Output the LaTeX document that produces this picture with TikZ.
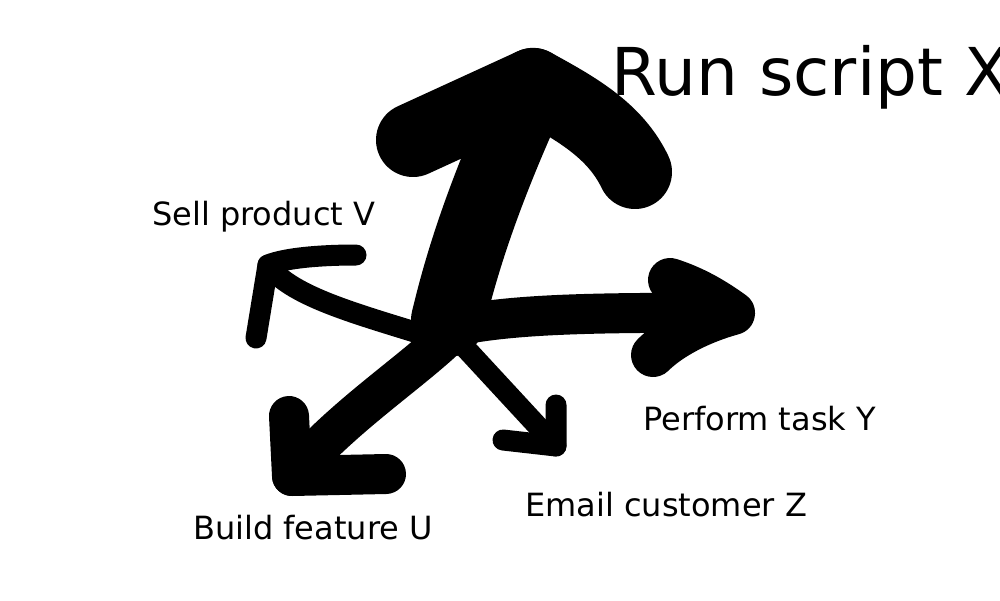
\documentclass[tikz,border=0pt]{standalone}
\usepackage{fontspec}
\setmainfont{DejaVu Sans}
\begin{document}
\begin{tikzpicture}[x=1pt,y=-1pt,
  stroke/.style={line cap=round,line join=round,draw=black},
  heavy/.style={stroke,line width=74pt},
  bold/.style={stroke,line width=40pt},
  boldhead/.style={stroke,line width=44pt},
  thin/.style={stroke,line width=21pt},
  lbl/.style={anchor=base west,inner sep=0pt,font=\fontsize{32}{38}\selectfont},
  title/.style={anchor=base west,inner sep=0pt,font=\fontsize{66}{78}\selectfont}]
\useasboundingbox (0,0) rectangle (1000,600);
% labels
\node[title] (run) at (611.5,95) {Run script X};
\node[lbl] (sell) at (152,225) {Sell product V};
\node[lbl] (perform) at (643,430) {Perform task Y};
\node[lbl] (build) at (193,539) {Build feature U};
\node[lbl] (email) at (525,516) {Email customer Z};
% key points
\coordinate (c) at (448,320);
\coordinate (top) at (533,85);
\coordinate (armL) at (413,140);
\coordinate (armR) at (635,172);
\coordinate (tipY) at (733,313);
\coordinate (barbY1) at (670,280);
\coordinate (barbY2) at (653,355);
\coordinate (tipV) at (268,265);
\coordinate (barbV1) at (356,255);
\coordinate (barbV2) at (256,338);
\coordinate (tipU) at (292,476);
\coordinate (barbU1) at (289,416);
\coordinate (barbU2) at (386,474);
\coordinate (tipZ) at (556,446);
\coordinate (barbZ1) at (556,405);
\coordinate (barbZ2) at (503,440);
% Run script X (up)
\draw[heavy] (c) .. controls (460,270) and (480,200) .. (top);
\draw[heavy] (armL) -- (top) .. controls (575,108) and (615,130) .. (armR);
% Perform task Y (right)
\draw[bold] (455,326) .. controls (510,315) and (580,312) .. (tipY);
\draw[boldhead] (barbY1) .. controls (695,288) and (715,300) .. (tipY)
  .. controls (700,322) and (670,338) .. (barbY2);
% Sell product V (left up)
\draw[thin] (418,333) .. controls (350,312) and (290,295) .. (tipV);
\draw[thin] (barbV1) .. controls (320,255) and (285,258) .. (tipV) -- (barbV2);
% Build feature U (down left)
\draw[bold] (442,342) .. controls (400,380) and (340,420) .. (tipU);
\draw[bold] (barbU1) -- (tipU) -- (barbU2);
% Email customer Z (down right)
\draw[thin] (458,340) -- (tipZ);
\draw[thin] (barbZ1) -- (tipZ) -- (barbZ2);
\end{tikzpicture}
\end{document}
